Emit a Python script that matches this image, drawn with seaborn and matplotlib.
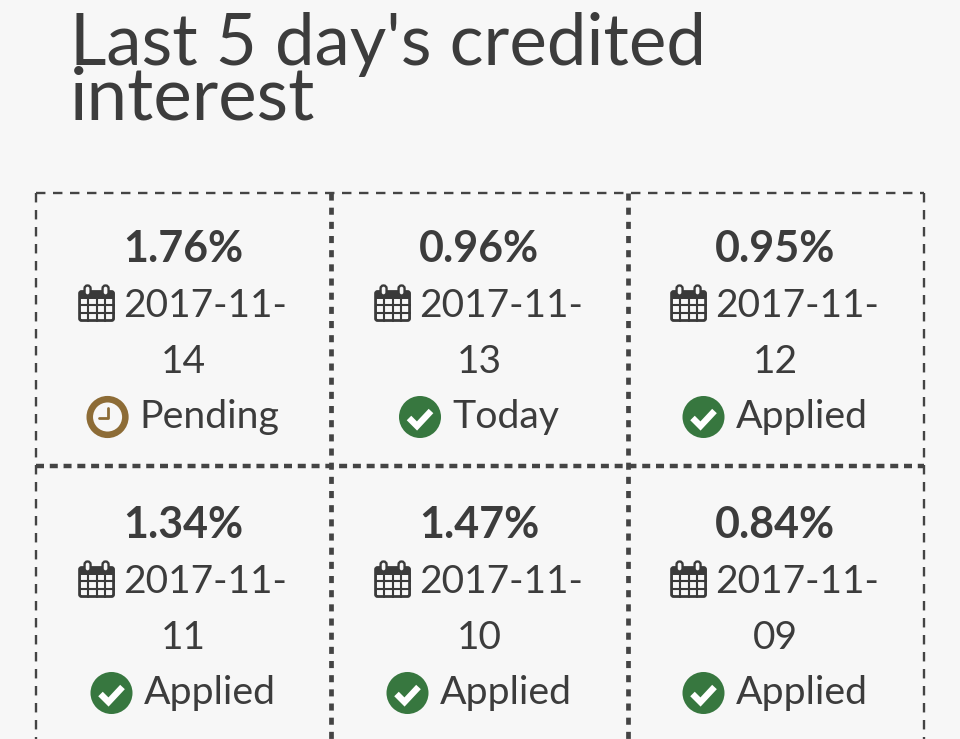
import numpy as np
import matplotlib
matplotlib.use("Agg")
import matplotlib.pyplot as plt
import seaborn as sns
from matplotlib.colors import ListedColormap
from matplotlib.patches import Circle, FancyBboxPatch, Rectangle
from matplotlib.transforms import Affine2D

# Data
title_lines = ["Last 5 day's credited", "interest"]
rates = [1.76, 0.96, 0.95, 1.34, 1.47, 0.84]
dates = ["2017-11-14", "2017-11-13", "2017-11-12", "2017-11-11", "2017-11-10", "2017-11-09"]
statuses = ["Pending", "Today", "Applied", "Applied", "Applied", "Applied"]

BG = "#f7f7f7"
INK = "#3c3c3c"
LINE = "#444444"
GREEN = "#37773f"
BROWN = "#8d6c36"

sns.set_theme(style="white")
plt.rcParams["font.family"] = ["Lato", "DejaVu Sans"]

W, H = 960, 739
CELL_W, CELL_H = 296, 275
LEFT, TOP = 36, 193

fig = plt.figure(figsize=(W / 100, H / 100), dpi=100, facecolor=BG)
ax = fig.add_axes([LEFT / W, 1 - (TOP + 2 * CELL_H) / H, 3 * CELL_W / W, 2 * CELL_H / H])

grid = np.array(rates).reshape(2, 3)
sns.heatmap(grid, ax=ax, cmap=ListedColormap([BG]), cbar=False, xticklabels=False, yticklabels=False)

# outer lines are thin, inner ones heavy
ax.plot([0, 3], [0, 0], color=LINE, lw=1.7, dashes=(4, 3.2), clip_on=False)
ax.plot([0, 3], [0.993, 0.993], color=LINE, lw=3.2, dashes=(1.8, 1.3), clip_on=False)
ax.plot([0, 0], [0, 2], color=LINE, lw=1.7, dashes=(4, 3.2), clip_on=False)
ax.plot([3, 3], [0, 2], color=LINE, lw=1.7, dashes=(4, 3.2), clip_on=False)
ax.plot([0.997, 0.997], [0, 2], color=LINE, lw=3.4, dashes=(1.5, 1.5), clip_on=False)
ax.plot([2, 2], [0, 2], color=LINE, lw=3.4, dashes=(1.5, 1.5), clip_on=False)


def add(artist, tr):
    artist.set_transform(tr)
    artist.set_clip_on(False)
    ax.add_artist(artist)


def calendar(tr):
    # icon box is 36 x 37 px, origin at its top left
    add(FancyBboxPatch((1, 7), 34, 29, boxstyle="round,pad=0,rounding_size=2", fc=BG, ec="#3a3a3a", lw=2), tr)
    add(Rectangle((1, 6), 34, 8, fc="#3a3a3a", ec="none"), tr)
    for gx in [9.5, 18, 26.5]:
        ax.plot([gx, gx], [13, 36], color="#3a3a3a", lw=1.5, transform=tr, clip_on=False)
    for gy in [20.5, 28]:
        ax.plot([1, 35], [gy, gy], color="#3a3a3a", lw=1.5, transform=tr, clip_on=False)
    for rx in [9, 27]:
        add(FancyBboxPatch((rx - 3, 1), 6, 10, boxstyle="round,pad=0,rounding_size=3", fc=BG, ec="#3a3a3a", lw=1.7), tr)


def check_badge(tr):
    add(Circle((21, 21), 21, fc=GREEN, ec="none"), tr)
    ax.plot([10, 18, 32], [22, 30, 15], color="white", lw=4.6, transform=tr,
            clip_on=False, solid_capstyle="butt", solid_joinstyle="miter")


def clock_badge(tr):
    add(Circle((21, 21), 17.8, fc=BG, ec=BROWN, lw=4.7), tr)
    ax.plot([21, 21, 12.5], [11.5, 22, 22], color=BROWN, lw=2, transform=tr, clip_on=False)


renderer = fig.canvas.get_renderer()


def icon_line(label, cx, cy, size, icon_w, icon_h, gap, draw, icon_dy=0, color=INK):
    t = ax.text(0, 0, label, fontsize=size, color=color, va="center", ha="left",
                transform=Affine2D().translate(0, 0), clip_on=False)
    tw = t.get_window_extent(renderer).width
    x0 = cx - (icon_w + gap + tw) / 2
    t.set_transform(Affine2D().translate(x0 + icon_w + gap, H - cy))
    draw(Affine2D().scale(1, -1).translate(x0, H - cy + icon_h / 2 - icon_dy))


for i, (rate, date, status) in enumerate(zip(rates, dates, statuses)):
    row, col = divmod(i, 3)
    cx = LEFT + CELL_W * (col + 0.5) - 1
    top = TOP + CELL_H * row + (row * 1)
    head, day = date.rsplit("-", 1)
    ax.text(cx, H - (top + 56), f"{rate:.2f}%", fontsize=31, fontweight="bold", color=INK, ha="center",
            va="center", transform=Affine2D(), clip_on=False)
    icon_line(head + "-", cx, top + 113, 28, 36, 37, 9, calendar, icon_dy=-3)
    ax.text(cx, H - (top + 169), day, fontsize=28, color=INK, ha="center", va="center",
            transform=Affine2D(), clip_on=False)
    draw = clock_badge if status == "Pending" else check_badge
    icon_line(status, cx, top + 224, 28.3, 42, 42, 11, draw)

fig.text(70 / W, 1 - 65 / H, title_lines[0], fontsize=51, color=INK, ha="left", va="baseline")
fig.text(70 / W, 1 - 120 / H, title_lines[1], fontsize=52.5, color=INK, ha="left", va="baseline")

fig.savefig("out.png", dpi=100, facecolor=BG)
